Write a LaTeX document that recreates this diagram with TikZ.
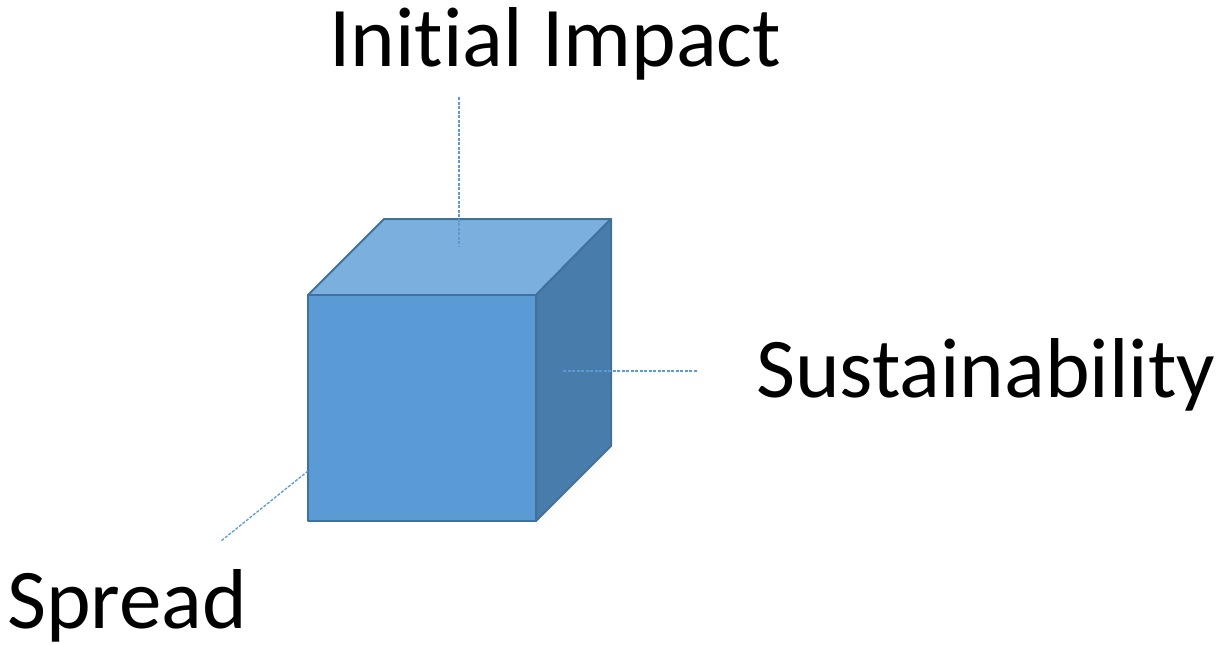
\documentclass[tikz,border=0pt]{standalone}
\usepackage{fontspec}
\setmainfont[Ligatures=NoCommon]{Carlito}
\definecolor{frontc}{HTML}{5B9BD5}
\definecolor{topc}{HTML}{7BAFDE}
\definecolor{sidec}{HTML}{487CAA}
\definecolor{edgec}{HTML}{41719C}
\definecolor{linec}{HTML}{5B9BD5}
\begin{document}
\begin{tikzpicture}[x=1pt,y=-1pt,
  face/.style={draw=edgec,line width=2pt,line join=round},
  leader/.style={draw=linec,line width=1.3pt,dash pattern=on 3pt off 1.5pt},
  lab/.style={font=\fontsize{85}{100}\selectfont,inner sep=0pt,anchor=base west}]
\useasboundingbox (0,0) rectangle (1219,645);
% cube corners
\coordinate (fa) at (308,295);
\coordinate (fb) at (536,295);
\coordinate (fc) at (536,521);
\coordinate (fd) at (308,521);
\coordinate (ba) at (384,219);
\coordinate (bb) at (611,219);
\coordinate (bc) at (611,446);
\filldraw[face,fill=topc] (fa) -- (ba) -- (bb) -- (fb) -- cycle;
\filldraw[face,fill=sidec] (fb) -- (bb) -- (bc) -- (fc) -- cycle;
\filldraw[face,fill=frontc] (fa) -- (fb) -- (fc) -- (fd) -- cycle;
% leader lines
\coordinate (t1) at (459,97);
\coordinate (t2) at (459,247);
\coordinate (r1) at (563,371);
\coordinate (r2) at (698,371);
\coordinate (l1) at (308,471);
\coordinate (l2) at (221,541);
\draw[leader] (t1) -- (t2);
\draw[leader] (r1) -- (r2);
\draw[leader] (l1) -- (l2);
% labels
\node[lab] (ii) at (329,66) {Initial Impact};
\node[lab] (su) at (756,397) {Sustainability};
\node[lab] (sp) at (7,628) {Spread};
\end{tikzpicture}
\end{document}
